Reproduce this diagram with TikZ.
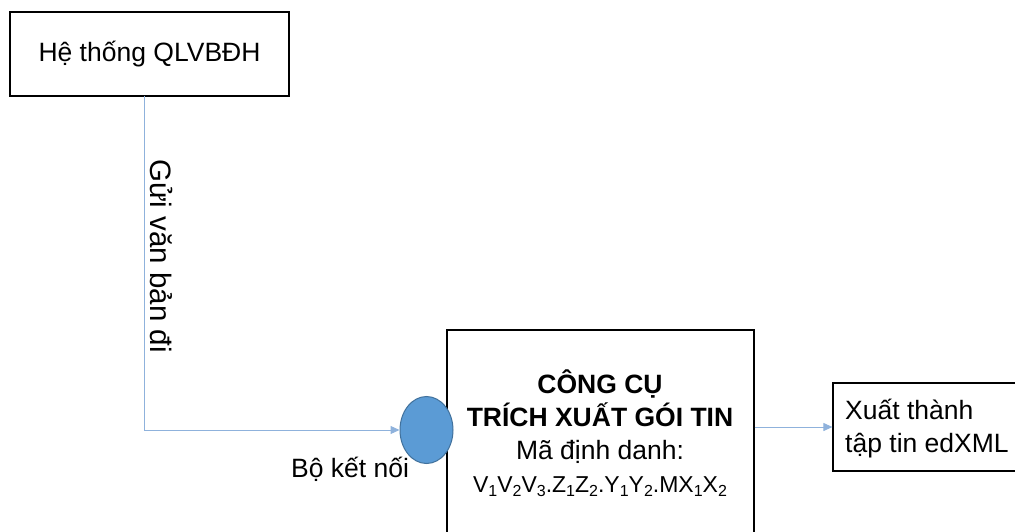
\documentclass[tikz,border=0pt]{standalone}
\usepackage{fontspec}
\setmainfont{Liberation Sans}
\usetikzlibrary{arrows.meta,shapes.geometric}
\definecolor{linkblue}{RGB}{143,178,220}
\definecolor{dotfill}{RGB}{91,155,213}
\definecolor{dotdraw}{RGB}{65,113,156}
\newcommand\mysub[1]{\raisebox{-4pt}{\fontsize{16}{16}\selectfont #1}}
\tikzset{
  box/.style={draw=black, line width=1.2pt, fill=white, inner sep=0pt},
  arr/.style={draw=linkblue, line width=1pt, -{Triangle[length=9pt,width=8pt]}},
  txt/.style={font=\fontsize{26.5}{33}\selectfont, inner sep=0pt},
}
\begin{document}
\begin{tikzpicture}[x=1pt,y=-1pt]
\useasboundingbox (0,0) rectangle (1015,532);
% top box
\node[box, minimum width=279pt, minimum height=84pt] (top) at (149.5,54) {};
\node[txt] (toptxt) at (149.5,54) {Hệ thống QLVBĐH};
% big box
\node[box, minimum width=307pt, minimum height=230pt] (big) at (600.5,445) {};
\node[txt, align=center] (bigtxt) at (600,433) {\textbf{CÔNG CỤ}\\ \textbf{TRÍCH XUẤT GÓI TIN}\\ Mã định danh:\\ {\fontsize{23}{33}\selectfont V\mysub{1}V\mysub{2}V\mysub{3}.Z\mysub{1}Z\mysub{2}.Y\mysub{1}Y\mysub{2}.MX\mysub{1}X\mysub{2}}};
% connector ellipse
\node[draw=dotdraw, fill=dotfill, line width=1pt, ellipse, minimum width=53pt, minimum height=67pt, inner sep=0pt] (conn) at (426.5,430) {};
\node[txt] (connlbl) at (350,469) {Bộ kết nối};
% small box
\node[box, minimum width=200pt, minimum height=88pt] (small) at (933,427) {};
\node[txt, align=left, anchor=west] (smalltxt) at (845,429) {Xuất thành\\ tập tin edXML};
% connectors
\coordinate (start) at (144,96);
\draw[arr] (start) |- (conn.west);
\node[txt, font=\fontsize{29.5}{33}\selectfont, rotate=-90] (sendlbl) at (161,256) {Gửi văn bản đi};
\draw[arr] (big.east |- small.west) -- (small.west);
\end{tikzpicture}
\end{document}
